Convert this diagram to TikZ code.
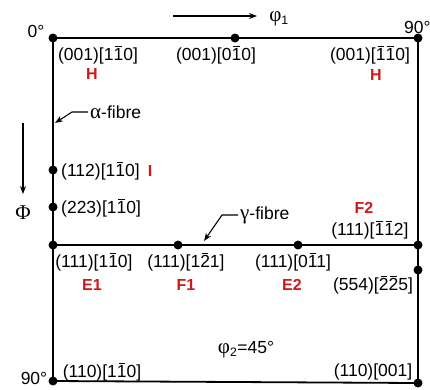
\documentclass[tikz,border=0pt]{standalone}
\usepackage{fontspec}
\setmainfont{Liberation Sans}
\newfontfamily\grk[Scale=1.2]{Liberation Serif}
\usetikzlibrary{arrows.meta}
\definecolor{myred}{RGB}{208,24,24}
\newcommand\ob[1]{\leavevmode\rlap{\kern0.1em\rule[0.8em]{0.36em}{0.06em}}#1}
\begin{document}
\begin{tikzpicture}[x=1pt,y=-1pt,
  dot/.style={circle,fill=black,inner sep=0pt,minimum size=9pt},
  frame/.style={line width=1.8pt},
  lab/.style={font=\fontsize{17.5}{20}\selectfont,inner sep=0pt},
  redlab/.style={font=\fontsize{16}{18}\selectfont\bfseries,text=myred,inner sep=0pt},
  arr/.style={line width=1.1pt,-{Stealth[length=8pt,width=6pt]}}]
\useasboundingbox (0,0) rectangle (430,389);
% frame dots
\node[dot] (TL) at (53,38) {};
\node[dot] (TM) at (235,38) {};
\node[dot] (TR) at (418,38) {};
\node[dot] (L112) at (53,170) {};
\node[dot] (L223) at (53,207) {};
\node[dot] (ML) at (53,245) {};
\node[dot] (F1d) at (178,245) {};
\node[dot] (E2d) at (298,245) {};
\node[dot] (MR) at (418,245) {};
\node[dot] (R554) at (418,270) {};
\node[dot] (BL) at (53,381) {};
\node[dot] (BR) at (418,383) {};
\draw[frame] (TL.center) -- (TR.center) -- (BR.center) -- (BL.center) -- cycle;
\draw[frame] (ML.center) -- (MR.center);
% degree labels
\node[lab] (d0) at (36,31) {0°};
\node[lab,anchor=west] (d90a) at (404,27) {90°};
\node[lab] (d90b) at (34,378) {90°};
% axis arrows
\coordinate (p1s) at (173,16);
\coordinate (p1e) at (257,16);
\draw[arr] (p1s) -- (p1e);
\node[lab] (phi1) at (279,19) {{\grk φ}\textsubscript{1}};
\coordinate (Ps) at (23,123);
\coordinate (Pe) at (23,194);
\draw[arr] (Ps) -- (Pe);
\node[lab] (Phi) at (23,213) {{\grk Φ}};
% top labels
\node[lab] (t1) at (98,55) {(001)[1\ob{1}0]};
\node[lab] (t2) at (216,55) {(001)[0\ob{1}0]};
\node[lab] (t3) at (370,55) {(001)[\ob{1}\ob{1}0]};
\node[redlab] (H1) at (92,74) {H};
\node[redlab] (H2) at (376,75) {H};
% alpha fibre
\node[lab,anchor=west] (alpha) at (90,112) {{\grk α}-fibre};
\coordinate (atip) at (55,123);
\draw[arr] ([xshift=-2pt]alpha.west) -- ++(-16,0) -- (atip);
\node[lab,anchor=west] (l112) at (61,171) {(112)[1\ob{1}0]};
\node[redlab] (I) at (150,171) {I};
\node[lab,anchor=west] (l223) at (61,208) {(223)[1\ob{1}0]};
% gamma fibre
\node[lab,anchor=west] (gamma) at (240,215) {{\grk γ}-fibre};
\coordinate (gtip) at (204,241);
\draw[arr] ([xshift=-2pt]gamma.west) -- ++(-16,0) -- (gtip);
\node[redlab] (F2) at (364,208) {F2};
\node[lab] (l112b) at (370,230) {(111)[\ob{1}\ob{1}2]};
% middle labels
\node[lab] (m1) at (94,262) {(111)[1\ob{1}0]};
\node[lab] (m2) at (186,262) {(111)[1\ob{2}1]};
\node[lab] (m3) at (293,262) {(111)[0\ob{1}1]};
\node[redlab] (E1) at (92,285) {E1};
\node[redlab] (F1) at (186,285) {F1};
\node[redlab] (E2) at (292,285) {E2};
\node[lab] (l554) at (373,285) {(554)[\ob{2}\ob{2}5]};
% bottom
\node[lab] (phi2) at (246,350) {{\grk φ}\textsubscript{2}=45°};
\node[lab] (b1) at (102,372) {(110)[1\ob{1}0]};
\node[lab] (b2) at (373,372) {(110)[001]};
\end{tikzpicture}
\end{document}
